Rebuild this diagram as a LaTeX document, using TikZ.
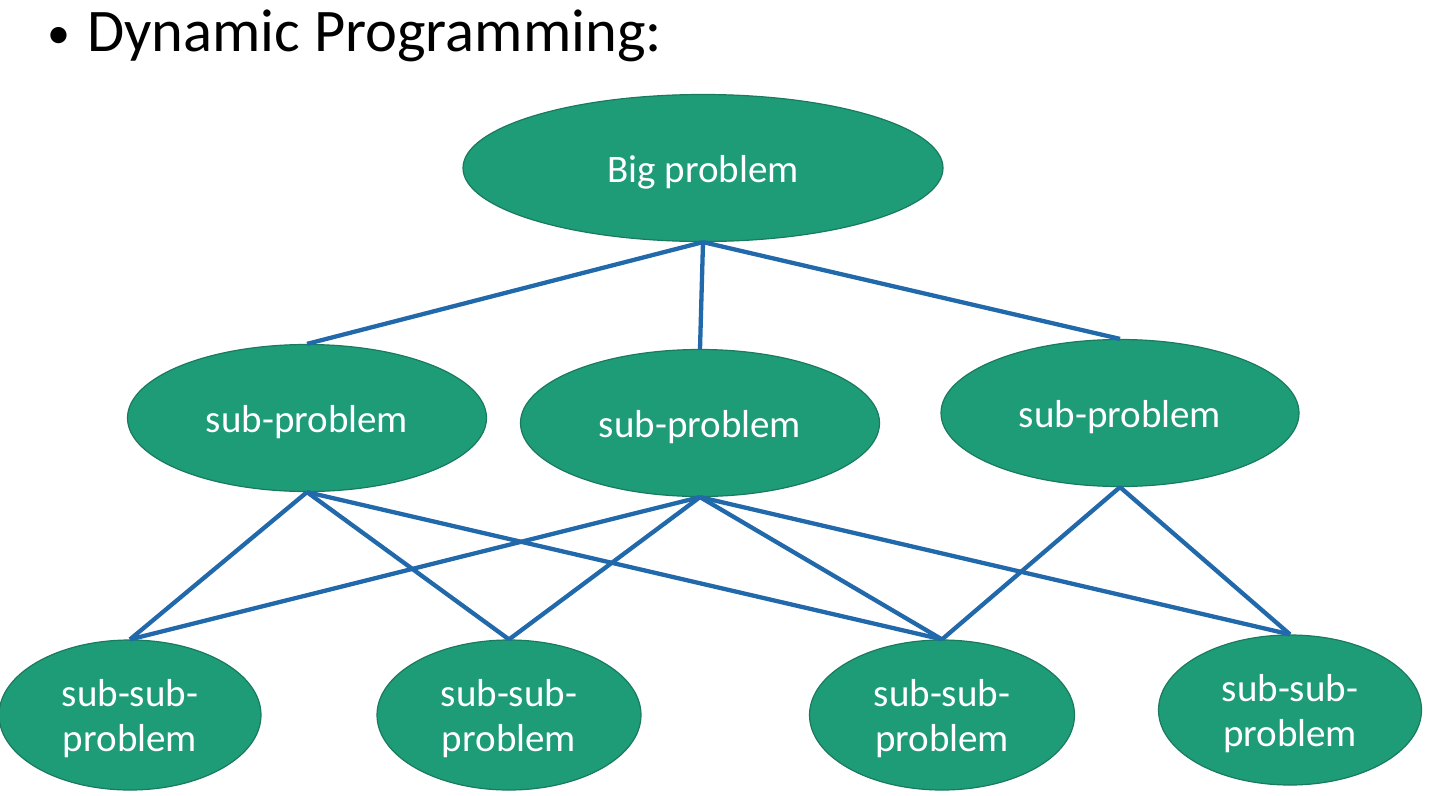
\documentclass[tikz,border=0pt]{standalone}
\usepackage{fontspec}
\setmainfont{Carlito}
\usetikzlibrary{shapes.geometric}
\definecolor{nodefill}{HTML}{1E9C78}
\definecolor{nodeline}{HTML}{1A7A5E}
\definecolor{linkblue}{HTML}{2169AA}
\newcommand{\lowered}[2]{\raisebox{#1}[\height][\depth]{#2}}
\newcommand{\twolines}[2]{\begin{tabular}{@{}c@{}}#1\\#2\end{tabular}}
\begin{document}
\begin{tikzpicture}[x=1pt,y=-1pt,
  prob/.style={ellipse,draw=nodeline,line width=1.2pt,fill=nodefill,text=white,inner sep=0pt,
    font=\fontsize{39}{45}\selectfont,align=center},
  link/.style={draw=linkblue,line width=4.3pt}]
\useasboundingbox (0,0) rectangle (1431,795);
\node[anchor=base,inner sep=0pt,font=\fontsize{46}{46}\selectfont] (bullet) at (59,48) {\textbullet};
\node[anchor=base west,inner sep=0pt,font=\fontsize{60.5}{70}\selectfont] (title) at (87,51) {Dynamic Programming:};
\node[prob,minimum width=480pt,minimum height=147pt] (big) at (703,168) {\lowered{-4pt}{Big problem}};
\node[prob,minimum width=359pt,minimum height=147pt] (s1) at (307,418) {\lowered{-4pt}{sub-problem}};
\node[prob,minimum width=359pt,minimum height=147pt] (s2) at (700,423) {\lowered{-4pt}{sub-problem}};
\node[prob,minimum width=358pt,minimum height=147pt] (s3) at (1120,413) {\lowered{-4pt}{sub-problem}};
\node[prob,minimum width=262pt,minimum height=150pt] (ss1) at (130,715) {\lowered{-5pt}{\twolines{sub-sub-}{problem}}};
\node[prob,minimum width=264pt,minimum height=150pt] (ss2) at (509,715) {\lowered{-5pt}{\twolines{sub-sub-}{problem}}};
\node[prob,minimum width=265pt,minimum height=150pt] (ss3) at (942,715) {\lowered{-5pt}{\twolines{sub-sub-}{problem}}};
\node[prob,minimum width=263pt,minimum height=150pt] (ss4) at (1290,710) {\lowered{-5pt}{\twolines{sub-sub-}{problem}}};
\path[link] (big.south) -- (s1.north);
\path[link] (big.south) -- (s2.north);
\path[link] (big.south) -- (s3.north);
\path[link] (s1.south) -- (ss1.north);
\path[link] (s1.south) -- (ss2.north);
\path[link] (s1.south) -- (ss3.north);
\path[link] (s2.south) -- (ss1.north);
\path[link] (s2.south) -- (ss2.north);
\path[link] (s2.south) -- (ss3.north);
\path[link] (s2.south) -- (ss4.north);
\path[link] (s3.south) -- (ss3.north);
\path[link] (s3.south) -- (ss4.north);
\end{tikzpicture}
\end{document}
